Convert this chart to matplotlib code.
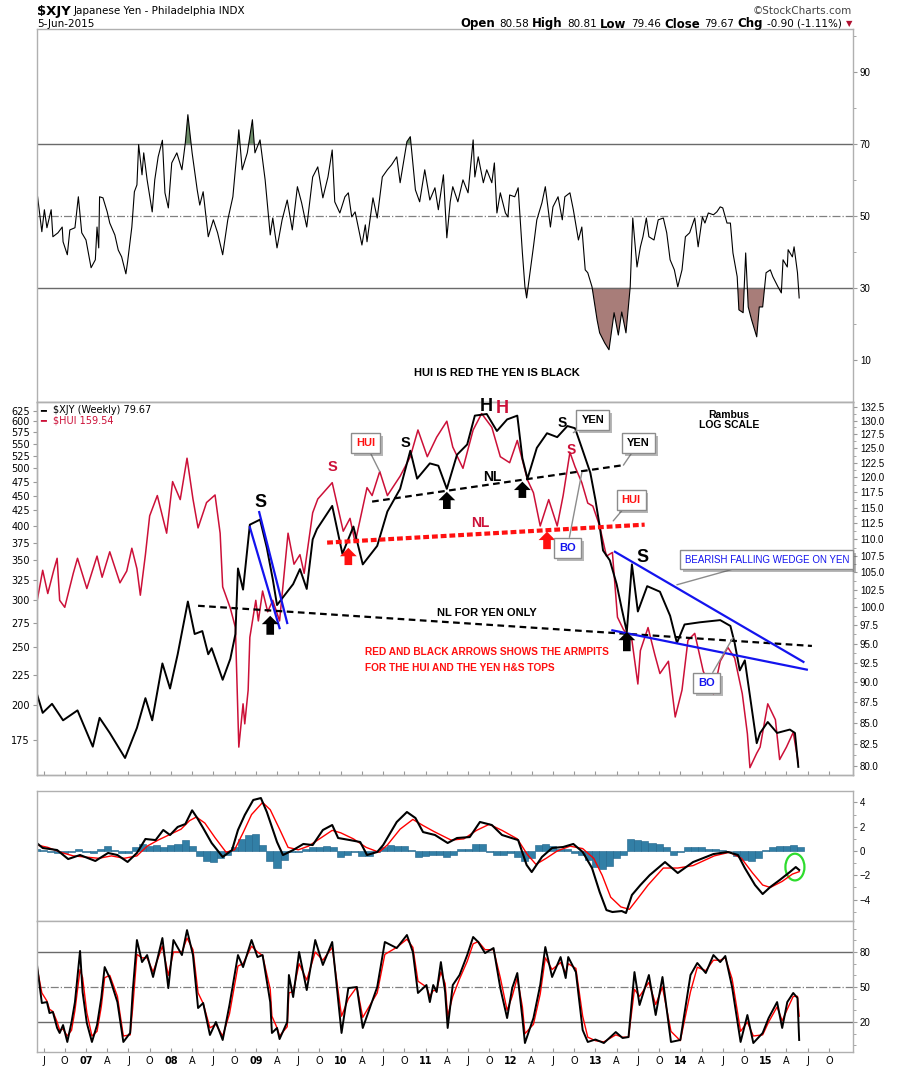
import numpy as np
import matplotlib
matplotlib.use('Agg')
import matplotlib.pyplot as plt
import matplotlib.patheffects as pe
from matplotlib.patches import Ellipse
from matplotlib.ticker import FixedLocator, FixedFormatter, NullLocator, NullFormatter

# ---------------- data (decimal years) ----------------
yen_t = [2006.42, 2006.49, 2006.60, 2006.73, 2006.90, 2007.08, 2007.16, 2007.28, 2007.46, 2007.60,
         2007.70, 2007.78, 2007.90, 2007.99, 2008.08, 2008.20, 2008.28, 2008.37, 2008.44, 2008.48,
         2008.61, 2008.70, 2008.76, 2008.79, 2008.85, 2008.93, 2009.05, 2009.13, 2009.20, 2009.25,
         2009.32, 2009.44, 2009.52, 2009.60, 2009.67, 2009.72, 2009.90, 2010.02, 2010.15, 2010.26,
         2010.43, 2010.55, 2010.70, 2010.82, 2010.90, 2011.05, 2011.15, 2011.25, 2011.37, 2011.49,
         2011.58, 2011.72, 2011.84, 2011.96, 2012.08, 2012.14, 2012.20, 2012.31, 2012.43, 2012.55,
         2012.67, 2012.76, 2012.84, 2012.94, 2013.00, 2013.05, 2013.09, 2013.17, 2013.25, 2013.31,
         2013.37, 2013.43, 2013.50, 2013.61, 2013.76, 2013.88, 2013.96, 2014.05, 2014.23, 2014.47,
         2014.59, 2014.64, 2014.70, 2014.76, 2014.82, 2014.90, 2014.94, 2015.03, 2015.14, 2015.29,
         2015.35, 2015.39]
yen_v = [88.6, 86.2, 87.3, 85.3, 86.5, 82.2, 85.6, 83.8, 80.9, 84.4,
         88.0, 85.3, 92.4, 89.2, 93.6, 100.8, 96.3, 96.7, 93.6, 94.4,
         90.3, 93.0, 96.3, 105.6, 102.5, 112.3, 113.1, 108.7, 104.0, 100.3,
         101.4, 103.3, 105.5, 102.6, 110.0, 111.6, 115.3, 107.8, 112.0, 106.2,
         109.0, 114.4, 118.1, 124.6, 119.8, 122.4, 122.0, 118.1, 123.9, 125.7,
         130.9, 131.2, 128.1, 130.2, 130.9, 123.3, 119.8, 125.1, 127.7, 127.0,
         129.0, 128.6, 125.1, 120.8, 116.3, 112.1, 108.3, 106.8, 103.3, 99.8,
         96.6, 106.2, 99.4, 103.0, 102.2, 98.8, 95.1, 97.6, 97.9, 98.2,
         97.4, 95.1, 91.5, 92.8, 88.3, 82.6, 83.8, 85.1, 83.8, 84.2,
         83.8, 79.9]

hui_t = [2006.42, 2006.49, 2006.55, 2006.62, 2006.66, 2006.69, 2006.75, 2006.85, 2006.90, 2007.01,
         2007.13, 2007.19, 2007.28, 2007.40, 2007.48, 2007.54, 2007.60, 2007.64, 2007.70, 2007.75,
         2007.84, 2007.95, 2008.02, 2008.11, 2008.19, 2008.26, 2008.32, 2008.42, 2008.52, 2008.58,
         2008.61, 2008.70, 2008.76, 2008.80, 2008.85, 2008.87, 2008.91, 2008.93, 2009.00, 2009.03,
         2009.08, 2009.14, 2009.20, 2009.28, 2009.38, 2009.45, 2009.52, 2009.57, 2009.67, 2009.73,
         2009.90, 2010.03, 2010.11, 2010.17, 2010.31, 2010.37, 2010.46, 2010.55, 2010.70, 2010.82,
         2010.91, 2011.02, 2011.13, 2011.25, 2011.32, 2011.44, 2011.56, 2011.66, 2011.78, 2011.88,
         2011.99, 2012.08, 2012.20, 2012.27, 2012.35, 2012.45, 2012.55, 2012.62, 2012.70, 2012.76,
         2012.84, 2012.91, 2012.97, 2013.05, 2013.13, 2013.20, 2013.26, 2013.33, 2013.43, 2013.50,
         2013.53, 2013.62, 2013.70, 2013.76, 2013.86, 2013.94, 2014.02, 2014.09, 2014.17, 2014.27,
         2014.39, 2014.47, 2014.56, 2014.64, 2014.73, 2014.79, 2014.82, 2014.90, 2014.94, 2015.03,
         2015.12, 2015.17, 2015.25, 2015.33, 2015.39]
hui_v = [297, 337, 308, 337, 353, 300, 292, 333, 353, 314,
         356, 328, 362, 321, 336, 367, 339, 306, 358, 416,
         450, 389, 475, 443, 520, 444, 397, 438, 451, 389,
         316, 291, 270, 170, 201, 186, 212, 260, 300, 277,
         311, 287, 300, 277, 389, 345, 358, 333, 421, 444,
         473, 392, 412, 375, 464, 450, 494, 450, 485, 523,
         580, 523, 564, 600, 543, 500, 580, 618, 586, 523,
         511, 557, 478, 455, 400, 443, 400, 450, 532, 503,
         473, 437, 432, 400, 356, 361, 281, 268, 257, 217,
         247, 270, 243, 226, 237, 191, 212, 257, 264, 228,
         209, 237, 250, 240, 209, 179, 157, 166, 170, 201,
         189, 162, 170, 180, 160]

rsi_t = [2006.43, 2006.48, 2006.51, 2006.54, 2006.59, 2006.61, 2006.67, 2006.72, 2006.73, 2006.78,
         2006.81, 2006.87, 2006.91, 2006.95, 2007.00, 2007.06, 2007.11, 2007.13, 2007.15, 2007.16,
         2007.20, 2007.25, 2007.28, 2007.34, 2007.38, 2007.42, 2007.47, 2007.49, 2007.54, 2007.57,
         2007.60, 2007.62, 2007.66, 2007.68, 2007.72, 2007.78, 2007.81, 2007.85, 2007.90, 2007.93,
         2007.97, 2008.01, 2008.07, 2008.13, 2008.17, 2008.20, 2008.25, 2008.31, 2008.34, 2008.38,
         2008.44, 2008.50, 2008.55, 2008.61, 2008.67, 2008.73, 2008.78, 2008.80, 2008.84, 2008.90,
         2008.96, 2008.99, 2009.05, 2009.11, 2009.17, 2009.20, 2009.25, 2009.31, 2009.37, 2009.43,
         2009.49, 2009.54, 2009.60, 2009.67, 2009.73, 2009.79, 2009.85, 2009.90, 2009.93, 2009.99,
         2010.05, 2010.09, 2010.13, 2010.17, 2010.25, 2010.29, 2010.31, 2010.35, 2010.38, 2010.43,
         2010.49, 2010.55, 2010.60, 2010.66, 2010.70, 2010.78, 2010.82, 2010.88, 2010.93, 2010.99,
         2011.05, 2011.11, 2011.15, 2011.21, 2011.25, 2011.29, 2011.32, 2011.38, 2011.44, 2011.50,
         2011.56, 2011.58, 2011.62, 2011.68, 2011.72, 2011.78, 2011.81, 2011.84, 2011.88, 2011.94,
         2011.97, 2011.99, 2012.05, 2012.09, 2012.14, 2012.17, 2012.19, 2012.23, 2012.27, 2012.31,
         2012.37, 2012.41, 2012.47, 2012.50, 2012.56, 2012.61, 2012.64, 2012.70, 2012.74, 2012.80,
         2012.84, 2012.88, 2012.91, 2012.96, 2013.02, 2013.05, 2013.11, 2013.16, 2013.22, 2013.27,
         2013.31, 2013.36, 2013.41, 2013.44, 2013.49, 2013.53, 2013.56, 2013.60, 2013.63, 2013.69,
         2013.74, 2013.80, 2013.84, 2013.88, 2013.93, 2013.97, 2014.02, 2014.06, 2014.11, 2014.17,
         2014.21, 2014.26, 2014.29, 2014.33, 2014.39, 2014.43, 2014.47, 2014.50, 2014.55, 2014.59,
         2014.62, 2014.67, 2014.69, 2014.74, 2014.77, 2014.80, 2014.84, 2014.90, 2014.93, 2014.97,
         2015.01, 2015.06, 2015.09, 2015.15, 2015.19, 2015.21, 2015.26, 2015.27, 2015.32, 2015.34,
         2015.38, 2015.40]
rsi_v = [55.3, 45.6, 51.7, 46.7, 51.7, 44.2, 45.3, 46.9, 42.8, 39.2,
         46.1, 46.7, 55.3, 45.3, 43.3, 35.6, 37.8, 46.9, 41.1, 55.3,
         55.0, 51.1, 48.0, 44.7, 40.5, 38.6, 33.9, 37.2, 46.9, 56.7,
         58.6, 69.8, 61.4, 67.5, 60.0, 51.1, 60.0, 66.4, 71.0, 56.4,
         52.2, 64.7, 67.5, 62.8, 70.3, 78.1, 67.5, 57.2, 53.0, 56.7,
         44.2, 48.9, 45.3, 39.2, 48.9, 55.3, 68.3, 73.9, 62.8, 67.5,
         76.7, 67.5, 71.1, 60.0, 44.7, 49.4, 41.1, 48.9, 54.4, 46.1,
         58.1, 53.6, 46.9, 60.8, 63.6, 55.0, 60.8, 68.3, 53.9, 50.8,
         55.3, 56.4, 49.7, 51.1, 41.9, 47.5, 42.8, 49.7, 55.0, 49.4,
         60.8, 62.8, 64.2, 66.4, 59.2, 70.6, 72.0, 57.2, 53.9, 62.8,
         54.4, 57.8, 51.7, 61.4, 43.9, 53.9, 58.1, 53.9, 60.0, 56.4,
         71.1, 60.8, 66.4, 59.2, 62.8, 59.2, 64.7, 50.8, 56.4, 50.8,
         49.7, 55.8, 55.3, 57.8, 39.7, 30.3, 27.2, 34.2, 41.4, 48.9,
         53.6, 58.1, 46.9, 52.5, 55.3, 48.9, 55.3, 56.4, 51.7, 43.3,
         46.9, 35.0, 34.2, 30.3, 21.1, 17.5, 14.7, 12.8, 23.1, 16.9,
         23.3, 17.5, 30.3, 49.4, 35.8, 41.4, 44.2, 49.4, 44.2, 43.3,
         48.9, 49.4, 45.3, 37.8, 35.0, 30.3, 35.0, 44.2, 45.3, 49.4,
         41.4, 49.7, 48.0, 50.8, 50.3, 51.1, 52.5, 52.2, 48.0, 48.0,
         39.7, 33.1, 23.9, 23.1, 39.7, 24.7, 21.1, 16.4, 24.7, 24.7,
         34.2, 35.0, 33.1, 30.3, 28.6, 37.8, 35.8, 40.6, 38.6, 41.4,
         34.2, 27.2]

macd_t = [2006.42, 2006.49, 2006.66, 2006.79, 2006.93, 2007.11, 2007.26, 2007.37, 2007.49, 2007.60,
          2007.70, 2007.82, 2007.91, 2007.99, 2008.08, 2008.17, 2008.25, 2008.31, 2008.38, 2008.48,
          2008.61, 2008.72, 2008.79, 2008.87, 2008.97, 2009.06, 2009.13, 2009.25, 2009.32, 2009.44,
          2009.56, 2009.67, 2009.79, 2009.90, 2009.97, 2010.11, 2010.23, 2010.31, 2010.43, 2010.50,
          2010.66, 2010.78, 2010.88, 2010.97, 2011.11, 2011.26, 2011.37, 2011.52, 2011.64, 2011.78,
          2011.90, 2012.09, 2012.19, 2012.25, 2012.37, 2012.49, 2012.62, 2012.74, 2012.85, 2012.96,
          2013.05, 2013.13, 2013.20, 2013.31, 2013.36, 2013.43, 2013.53, 2013.64, 2013.82, 2013.97,
          2014.15, 2014.39, 2014.56, 2014.68, 2014.76, 2014.88, 2014.97, 2015.06, 2015.17, 2015.29,
          2015.36, 2015.40]
macd_v = [0.66, 0.25, 0.08, -0.66, -0.33, -0.82, -0.16, -0.33, -0.90, -0.16,
          0.99, 0.90, 1.73, 1.32, 1.98, 2.22, 3.35, 2.72, 1.89, 0.66,
          -0.49, 0.08, 1.73, 2.96, 4.20, 4.36, 3.21, 0.74, -0.33, 0.08,
          0.58, 0.49, 1.73, 2.14, 1.07, 0.90, 0.74, -0.33, -0.08, 0.49,
          2.39, 3.21, 2.72, 1.56, 1.32, 0.66, 1.07, 1.15, 2.39, 2.14,
          1.32, 0.90, -1.15, -1.73, -0.49, 0.25, 0.33, 0.58, -0.08, -1.40,
          -3.37, -4.86, -5.02, -4.94, -5.10, -3.62, -2.80, -1.98, -0.91, -1.81,
          -0.91, -0.25, -0.08, -0.33, -1.40, -2.80, -3.54, -2.96, -2.39, -1.73,
          -1.32, -1.56]

sig_t = [2006.42, 2006.55, 2006.70, 2006.85, 2007.00, 2007.15, 2007.30, 2007.45, 2007.60, 2007.72,
         2007.85, 2008.00, 2008.12, 2008.22, 2008.30, 2008.40, 2008.52, 2008.65, 2008.75, 2008.85,
         2008.95, 2009.08, 2009.17, 2009.28, 2009.38, 2009.50, 2009.62, 2009.75, 2009.90, 2010.00,
         2010.15, 2010.30, 2010.45, 2010.55, 2010.70, 2010.85, 2010.97, 2011.10, 2011.30, 2011.45,
         2011.60, 2011.75, 2011.90, 2012.08, 2012.20, 2012.30, 2012.42, 2012.55, 2012.70, 2012.85,
         2012.98, 2013.08, 2013.18, 2013.30, 2013.40, 2013.50, 2013.62, 2013.80, 2013.97, 2014.15,
         2014.40, 2014.58, 2014.72, 2014.85, 2014.97, 2015.06, 2015.20, 2015.32, 2015.40]
sig_v = [0.5, 0.3, -0.1, -0.4, -0.5, -0.6, -0.4, -0.6, -0.4, 0.4,
         0.9, 1.4, 1.8, 2.5, 2.8, 2.3, 1.1, -0.1, 0.1, 1.5,
         3.0, 4.0, 3.4, 1.8, 0.3, 0.1, 0.4, 1.0, 1.7, 1.5,
         1.0, 0.3, -0.1, 0.5, 1.8, 2.6, 2.1, 1.6, 0.9, 1.0,
         1.7, 2.2, 1.7, 1.0, -0.3, -1.1, -0.6, 0.0, 0.4, 0.2,
         -0.6, -2.0, -3.8, -4.6, -4.8, -3.9, -2.8, -1.4, -1.4, -1.2,
         -0.4, -0.1, -0.6, -1.8, -2.8, -3.0, -2.5, -1.9, -1.7]

# monthly histogram, June 2006 .. June 2015
hist_v = [0.2, 0.1, -0.1, -0.2, -0.2, -0.1, 0.2,
          -0.1, -0.2, 0.2, 0.4, 0.1, -0.2, -0.2, 0.3, 0.6, 0.4, 0.5, 0.3,
          0.5, 0.6, 0.9, 0.4, -0.4, -0.8, -0.9, -0.6, -0.3, 0.3, 1.0, 1.3,
          1.4, 0.5, -0.8, -1.4, -0.7, -0.1, -0.1, 0.2, 0.3, 0.3, 0.4, 0.3,
          -0.5, -0.3, -0.1, -0.4, -0.4, -0.1, 0.3, 0.5, 0.4, 0.4, 0.1, -0.5,
          -0.4, -0.3, -0.3, -0.5, -0.3, 0.2, 0.2, 0.6, 0.6, -0.1, -0.3, -0.3,
          -0.2, -0.5, -0.8, -0.6, 0.5, 0.6, 0.4, 0.2, 0.2, -0.2, -0.3, -0.7,
          -1.3, -1.5, -1.2, -0.6, -0.3, 1.0, 0.9, 0.8, 0.7, 0.6, 0.3, -0.3,
          -0.1, 0.3, 0.3, 0.3, 0.2, 0.2, 0.1, 0.0, -0.4, -0.7, -0.8, -0.6,
          0.1, 0.3, 0.4, 0.4, 0.5, 0.3]
hist_t = 2006 + (5 + np.arange(len(hist_v))) / 12

sto_t = [2006.42, 2006.48, 2006.54, 2006.57, 2006.61, 2006.66, 2006.69, 2006.73, 2006.78, 2006.83,
         2006.87, 2006.93, 2006.96, 2007.01, 2007.07, 2007.13, 2007.18, 2007.22, 2007.28, 2007.37,
         2007.44, 2007.52, 2007.55, 2007.60, 2007.66, 2007.72, 2007.79, 2007.90, 2007.97, 2008.03,
         2008.13, 2008.19, 2008.26, 2008.32, 2008.38, 2008.46, 2008.53, 2008.61, 2008.69, 2008.79,
         2008.85, 2008.95, 2009.02, 2009.08, 2009.17, 2009.19, 2009.25, 2009.28, 2009.37, 2009.39,
         2009.44, 2009.51, 2009.60, 2009.70, 2009.79, 2009.90, 2010.01, 2010.09, 2010.19, 2010.26,
         2010.43, 2010.52, 2010.66, 2010.78, 2010.85, 2010.91, 2011.01, 2011.05, 2011.09, 2011.13,
         2011.18, 2011.23, 2011.26, 2011.32, 2011.40, 2011.49, 2011.56, 2011.62, 2011.70, 2011.80,
         2011.88, 2011.96, 2012.02, 2012.08, 2012.14, 2012.17, 2012.27, 2012.35, 2012.41, 2012.49,
         2012.59, 2012.65, 2012.68, 2012.77, 2012.85, 2012.91, 2013.00, 2013.10, 2013.24, 2013.32,
         2013.39, 2013.46, 2013.52, 2013.63, 2013.71, 2013.79, 2013.89, 2014.00, 2014.12, 2014.20,
         2014.30, 2014.39, 2014.47, 2014.53, 2014.61, 2014.71, 2014.79, 2014.86, 2014.97, 2015.04,
         2015.14, 2015.20, 2015.26, 2015.33, 2015.38, 2015.40]
sto_k = [70.6, 36.3, 37.1, 27.7, 28.6, 14.9, 10.6, 17.4, 2.9, 20.0,
         37.1, 80.9, 45.7, 19.1, 2.9, 17.4, 40.6, 67.1, 57.7, 37.1,
         2.9, 10.6, 45.7, 90.3, 71.4, 77.4, 58.6, 92.0, 49.1, 90.3,
         77.4, 98.8, 77.4, 32.0, 36.3, 8.9, 20.0, 4.6, 34.6, 77.4,
         67.1, 90.3, 75.7, 77.4, 37.1, 10.6, 14.9, 5.4, 20.0, 60.3,
         41.4, 80.0, 47.4, 90.3, 68.9, 88.6, 10.6, 49.1, 50.0, 14.9,
         50.0, 88.6, 83.4, 94.6, 80.0, 44.9, 51.7, 37.1, 51.7, 45.7,
         71.4, 45.7, 14.9, 51.7, 60.3, 77.4, 92.9, 88.6, 79.1, 83.4,
         49.1, 23.4, 49.1, 62.0, 23.4, 2.0, 23.4, 51.7, 84.3, 58.6,
         75.7, 57.7, 75.7, 62.8, 13.1, 2.9, 5.0, 2.0, 11.4, 6.3,
         7.1, 62.8, 34.6, 60.3, 26.0, 58.6, 2.9, 4.6, 60.3, 70.6,
         62.0, 77.4, 71.4, 76.6, 50.0, 2.9, 26.0, 2.0, 10.6, 23.4,
         37.1, 14.9, 37.1, 44.9, 40.6, 4.6]
sto_d = [68, 45, 38, 31, 29, 20, 13, 14, 8, 13,
         30, 65, 58, 28, 8, 12, 33, 58, 60, 42,
         8, 9, 32, 78, 75, 75, 63, 85, 60, 80,
         80, 92, 82, 45, 36, 15, 18, 8, 27, 68,
         70, 85, 80, 77, 48, 25, 15, 8, 16, 45,
         46, 70, 56, 80, 73, 84, 25, 40, 50, 24,
         45, 78, 84, 91, 84, 55, 50, 42, 47, 47,
         63, 53, 25, 42, 57, 72, 87, 89, 82, 82,
         58, 30, 42, 58, 33, 10, 18, 44, 75, 65,
         71, 62, 70, 66, 25, 7, 4, 3, 9, 7,
         7, 48, 42, 54, 35, 50, 12, 4, 46, 67,
         64, 73, 73, 75, 57, 12, 20, 8, 9, 20,
         33, 21, 31, 42, 42, 25]

hui_ticks = [175, 200, 225, 250, 275, 300, 325, 350, 375, 400, 425, 450, 475, 500,
             525, 550, 575, 600, 625]
yen_ticks = [80.0, 82.5, 85.0, 87.5, 90.0, 92.5, 95.0, 97.5, 100.0, 102.5, 105.0,
             107.5, 110.0, 112.5, 115.0, 117.5, 120.0, 122.5, 125.0, 127.5, 130.0, 132.5]

# ---------------- layout ----------------
W, H = 900, 1069
T0, T1 = 2006.423, 2016.034
FRAME = '#b0b0b0'
RED = '#cc1038'
BLUE = '#1414ee'
NARROW = ['Liberation Sans Narrow', 'DejaVu Sans']
ARIAL = ['Liberation Sans', 'DejaVu Sans']


def box(top, bottom, left=37, right=853):
    return [left / W, 1 - bottom / H, (right - left) / W, (bottom - top) / H]


fig = plt.figure(figsize=(9, 10.69), dpi=100)
ax_rsi = fig.add_axes(box(29, 402))
ax_hui = fig.add_axes(box(402, 775))
ax_yen = ax_hui.twinx()
ax_macd = fig.add_axes(box(791, 921))
ax_sto = fig.add_axes(box(921, 1052))

q_t = np.arange(2006.5, 2015.76, 0.25)
q_lab = [["%02d" % (int(t) % 100), "A", "J", "O"][int(round((t % 1) * 4))] for t in q_t]


def style(ax, labels=False):
    for s in ax.spines.values():
        s.set_color(FRAME)
        s.set_linewidth(1)
    ax.set_xlim(T0, T1)
    ax.tick_params(axis='y', which='both', left=False, labelleft=False, right=True,
                   labelright=True, direction='out', color='#999999', labelsize=7, pad=2)
    ax.tick_params(axis='y', which='major', length=3)
    ax.tick_params(axis='y', which='minor', length=2)
    ax.yaxis.set_minor_formatter(NullFormatter())
    for lab in ax.get_yticklabels():
        lab.set_family(ARIAL)
    ax.set_xticks(q_t, q_lab if labels else [])
    ax.tick_params(axis='x', direction='in', length=3 if labels else 0, color='#999999',
                   labelsize=7, pad=3)
    if labels:
        for lab in ax.get_xticklabels():
            lab.set_family(NARROW)
            if lab.get_text().isdigit():
                lab.set_fontweight('bold')


# ---------------- RSI ----------------
rt = np.array(rsi_t)
rv = np.array(rsi_v)
ax_rsi.fill_between(rt, rv, 70, where=rv > 70, interpolate=True, color='#6f8f6b', lw=0)
ax_rsi.fill_between(rt, rv, 30, where=rv < 30, interpolate=True, color='#a87d79', lw=0)
ax_rsi.axhline(70, color='#6a6a6a', lw=1)
ax_rsi.axhline(30, color='#6a6a6a', lw=1)
ax_rsi.axhline(50, color='#808080', lw=0.9, ls='-.')
ax_rsi.plot(rt, rv, color='black', lw=0.8)
ax_rsi.set_ylim(-1.7, 101.9)
ax_rsi.yaxis.set_major_locator(FixedLocator([10, 30, 50, 70, 90]))
ax_rsi.yaxis.set_minor_locator(FixedLocator([20, 40, 60, 80, 100]))
style(ax_rsi)
ax_rsi.text(2011.84, 6.4, 'HUI IS RED THE YEN IS BLACK', ha='center', va='center',
            fontsize=8, fontweight='bold', family=ARIAL)

# ---------------- price panel ----------------
ax_hui.plot(hui_t, hui_v, color=RED, lw=1.1)
ax_hui.set_yscale('log')
ax_hui.set_ylim(152.6, 646.3)
ax_hui.yaxis.set_major_locator(FixedLocator(hui_ticks))
ax_hui.yaxis.set_major_formatter(FixedFormatter([str(v) for v in hui_ticks]))
ax_hui.yaxis.set_minor_locator(NullLocator())
style(ax_hui, labels=True)
ax_hui.tick_params(axis='y', left=True, labelleft=True, right=False, labelright=False)
for lab in ax_hui.get_yticklabels():
    lab.set_family(['DejaVu Sans'])
    lab.set_fontsize(7)

ax_yen.plot(yen_t, yen_v, color='black', lw=1.4)
ax_yen.set_yscale('log')
ax_yen.set_ylim(78.99, 133.43)
ax_yen.yaxis.set_major_locator(FixedLocator(yen_ticks))
ax_yen.yaxis.set_major_formatter(FixedFormatter(["%.1f" % v for v in yen_ticks]))
ax_yen.yaxis.set_minor_locator(FixedLocator([v + 1.25 for v in yen_ticks[:-1]]))
style(ax_yen)
ax_yen.set_xlim(T0, T1)

# legend
ax_yen.text(0.004, 0.978, '\u2501', transform=ax_yen.transAxes, fontsize=7, va='center',
            family=['DejaVu Sans'])
ax_yen.text(0.0196, 0.978, r'\$XJY (Weekly) 79.67', transform=ax_yen.transAxes, fontsize=7,
            va='center', family=['DejaVu Sans'])
ax_yen.text(0.004, 0.951, '\u2501', transform=ax_yen.transAxes, fontsize=7, va='center',
            color=RED, family=['DejaVu Sans'])
ax_yen.text(0.0196, 0.951, r'\$HUI 159.54', transform=ax_yen.transAxes, fontsize=7,
            va='center', color=RED, family=['DejaVu Sans'])

# trend lines and neck lines
ax_yen.plot([2008.32, 2015.55], [100.2, 94.7], color='black', lw=1.6, dashes=(3, 2))
ax_yen.plot([2010.37, 2013.33], [116.0, 122.1], color='black', lw=1.6, dashes=(3, 2))
ax_yen.plot([2009.84, 2013.58], [109.5, 112.3], color='#ff1010', lw=3, dashes=(1.4, 0.7))
ax_yen.plot([2008.93, 2009.28], [111.9, 97.1], color=BLUE, lw=1.6)
ax_yen.plot([2009.04, 2009.37], [114.3, 97.8], color=BLUE, lw=1.6)
ax_yen.plot([2013.23, 2015.45], [108.1, 92.6], color=BLUE, lw=1.6)
ax_yen.plot([2013.20, 2015.49], [96.8, 91.6], color=BLUE, lw=1.6)


def big(x, y, s, color='black', size=13):
    ax_yen.text(x, y, s, ha='center', va='center', color=color, fontsize=size,
                fontweight='bold', family=ARIAL)


big(2009.05, 115.9, 'S')
big(2009.90, 121.8, 'S', RED, 10.5)
big(2010.76, 126.0, 'S', size=10.5)
big(2011.72, 132.6, 'H')
big(2011.90, 132.2, 'H', RED)
big(2011.78, 120.0, 'NL', size=10)
big(2011.64, 112.6, 'NL', RED, 10)
big(2012.61, 129.5, 'S', size=10)
big(2012.72, 124.8, 'S', RED, 10)
big(2013.56, 107.2, 'S', size=13)
ax_yen.text(2014.57, 130.1, 'Rambus\nLOG SCALE', ha='center', va='center', fontsize=7.5,
            fontweight='bold', family=ARIAL, linespacing=1.1)
ax_yen.text(2011.72, 99.2, 'NL FOR YEN ONLY', ha='center', va='center', fontsize=8,
            fontweight='bold', family=ARIAL)
ax_yen.text(2010.29, 93.9, 'RED AND BLACK ARROWS SHOWS THE ARMPITS', ha='left', va='center',
            fontsize=7.3, fontweight='bold', color='#ff1010', family=ARIAL)
ax_yen.text(2010.29, 91.8, 'FOR THE HUI AND THE YEN H&S TOPS', ha='left', va='center',
            fontsize=7.3, fontweight='bold', color='#ff1010', family=ARIAL)


def callout(x, y, tx, ty, s, color, bold=True, size=8):
    a = ax_yen.annotate(s, xy=(tx, ty), xytext=(x, y), ha='left' if not bold else 'center',
                        va='center', color=color, fontsize=size,
                        fontweight='bold' if bold else 'normal', family=ARIAL,
                        bbox=dict(boxstyle='square,pad=0.45', fc='white', ec='#8c8c8c', lw=1),
                        arrowprops=dict(arrowstyle='-', color='#8c8c8c', lw=1,
                                        shrinkA=0, shrinkB=0),
                        annotation_clip=False, zorder=6)
    a.get_bbox_patch().set_path_effects([pe.SimplePatchShadow(offset=(2, -2), alpha=0.4),
                                         pe.Normal()])
    return a


callout(2010.29, 126.0, 2010.46, 121.0, 'HUI', '#ff1010')
callout(2012.97, 130.1, 2012.74, 127.8, 'YEN', 'black')
callout(2013.51, 126.0, 2013.33, 122.1, 'YEN', 'black')
callout(2013.42, 116.3, 2013.21, 112.9, 'HUI', '#ff1010')
callout(2012.67, 108.7, 2012.84, 120.8, 'BO', BLUE)
callout(2014.31, 89.9, 2014.62, 95.8, 'BO', BLUE)
callout(2014.05, 106.9, 2013.96, 103.2, 'BEARISH FALLING WEDGE ON YEN', BLUE,
        bold=False, size=7)


def up_arrow(x, y0, y1, color):
    ax_yen.annotate('', xy=(x, y1), xytext=(x, y0),
                    arrowprops=dict(arrowstyle='simple,head_length=0.55,head_width=1.1,'
                                    'tail_width=0.5', fc=color, ec=color, lw=0,
                                    mutation_scale=11, shrinkA=0, shrinkB=0))


up_arrow(2009.17, 96.2, 98.8, 'black')
up_arrow(2011.25, 114.8, 117.6, 'black')
up_arrow(2012.14, 116.6, 119.3, 'black')
up_arrow(2013.37, 94.0, 96.6, 'black')
up_arrow(2010.09, 106.1, 108.7, '#ff1010')
up_arrow(2012.43, 108.5, 111.2, '#ff1010')

# ---------------- MACD ----------------
ax_macd.bar(hist_t, hist_v, width=1 / 12, color='#327fa6', edgecolor='#1d6289', lw=0.4)
ax_macd.plot(sig_t, sig_v, color='#ff0000', lw=1.0)
ax_macd.plot(macd_t, macd_v, color='black', lw=1.5)
ax_macd.add_patch(Ellipse((2015.35, -1.32), 0.224, 2.2, fill=False, ec='#2ddc2d', lw=1.6))
ax_macd.set_ylim(-5.76, 4.94)
ax_macd.yaxis.set_major_locator(FixedLocator([-4, -2, 0, 2, 4]))
ax_macd.yaxis.set_minor_locator(FixedLocator([-5, -3, -1, 1, 3]))
style(ax_macd)

# ---------------- Stochastics ----------------
ax_sto.axhline(80, color='#6a6a6a', lw=1)
ax_sto.axhline(20, color='#6a6a6a', lw=1)
ax_sto.axhline(50, color='#808080', lw=0.9, ls='-.')
ax_sto.plot(sto_t, sto_d, color='#ff0000', lw=1.0)
ax_sto.plot(sto_t, sto_k, color='black', lw=1.4)
ax_sto.set_ylim(-5.7, 106.6)
ax_sto.yaxis.set_major_locator(FixedLocator([20, 50, 80]))
ax_sto.yaxis.set_minor_locator(FixedLocator([0, 10, 30, 40, 60, 70, 90, 100]))
style(ax_sto, labels=True)

# ---------------- header ----------------
fig.text(37 / W, 1 - 11 / H, r'\$XJY', fontsize=9.5, fontweight='bold', va='center',
         family=NARROW)
fig.text(74 / W, 1 - 11 / H, 'Japanese Yen - Philadelphia INDX', fontsize=7.5, va='center',
         family=NARROW)
fig.text(37 / W, 1 - 24 / H, '5-Jun-2015', fontsize=7.5, va='center', family=NARROW)
fig.text(852 / W, 1 - 11 / H, '\u00a9StockCharts.com', fontsize=7.5, va='center', ha='right',
         color='#444444', family=NARROW)

pieces = [('Open', True), ('80.58', False), ('High', True), ('80.81', False), ('Low', True),
          ('79.46', False), ('Close', True), ('79.67', False), ('Chg', True),
          ('-0.90 (-1.11%)', False)]
prev = fig.text(852 / W, 1 - 24 / H, '\u25bc', fontsize=6, va='center', ha='right',
                color='#b01030', family=['DejaVu Sans'])
for s, b in reversed(pieces):
    prev = fig.add_artist(matplotlib.text.Annotation(
        s, xy=(0, 0.5), xycoords=prev, xytext=(-3 if b else -2.5, 0), textcoords='offset points',
        ha='right', va='center', fontsize=8.5 if b else 7.5,
        fontweight='bold' if b else 'normal', family=NARROW))

fig.savefig('out.png', dpi=100)
